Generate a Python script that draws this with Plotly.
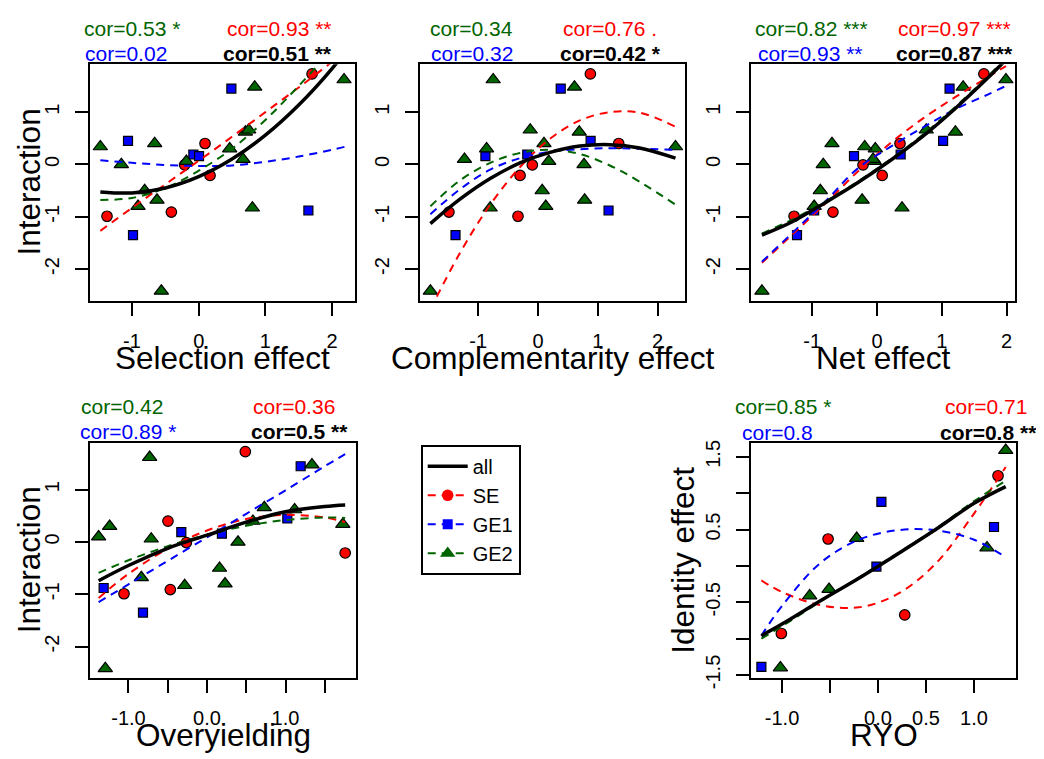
import plotly.graph_objects as go

W, H = 1044, 759
FONT = "Liberation Sans"

# ---------------- data ----------------
# Interaction (y of the first four panels)
se_interaction = [-0.99, -0.91, -0.01, 0.40, -0.21, 1.73]
ge1_interaction = [0.45, -1.35, 0.19, 0.16, 1.45, -0.88]
ge2_interaction = [-2.42, -0.83, -0.80, -0.68, -0.50, 0.00, 0.06, 0.10,
                   0.30, 0.34, 0.40, 0.62, 0.66, 1.48, 1.62]

# Selection effect
se_selection = [-1.375, -0.41, -0.21, 0.095, 0.17, 1.70]
ge1_selection = [-1.06, -0.985, -0.08, 0.005, 0.49, 1.645]
ge2_selection = [-0.56, 0.805, -0.91, -0.625, -0.81, -1.16, -0.185, 0.665,
                 0.465, -1.475, -0.66, 0.70, 0.75, 0.84, 2.18]

# Complementarity effect
se_complementarity = [-0.335, -1.49, -0.095, 1.35, -0.30, 0.876]
ge1_complementarity = [0.88, -1.38, -0.18, -0.88, 0.38, 1.18]
ge2_complementarity = [-1.80, -0.80, 0.13, 0.78, 0.07, 0.77, 0.18, -1.23,
                       -0.86, 2.30, 0.10, 0.69, -0.13, 0.61, -0.75]

# Net effect
se_net = [-1.28, -0.68, -0.216, 0.355, 0.08, 1.65]
ge1_net = [1.02, -1.235, 0.365, -0.355, 1.12, -0.97]
ge2_net = [-1.776, 0.386, -0.97, -0.23, -0.875, -0.83, -0.04, -0.06,
           -0.026, -0.19, -0.695, 1.21, 0.76, 1.33, 1.99]

# Overyielding
se_overyielding = [-1.057, -0.467, -0.263, -0.497, 1.76, 0.488]
ge1_overyielding = [1.023, -0.815, -0.327, 0.19, 1.193, -1.316]
ge2_overyielding = [-1.295, -0.284, 0.23, -0.836, 0.16, 0.395, -0.71, -1.38,
                    -1.24, 1.73, 0.585, 1.116, 0.73, 1.337, -0.73]

# RYO vs Identity effect
se_ryo = [-1.007, -0.52, 0.278, 1.25]
se_identity = [-0.93, 0.37, -0.675, 1.24]
ge1_ryo = [-1.215, 0.035, -0.017, 1.208]
ge1_identity = [-1.39, 0.88, -0.01, 0.535]
ge2_ryo = [-1.017, -0.712, -0.51, -0.222, 1.135, 1.33]
ge2_identity = [-1.40, -0.41, -0.32, 0.38, 0.25, 1.59]

# fitted curves at a few x positions
fit_x_selection = [-1.475, -1.0, -0.5, 0.0, 0.5, 1.0, 1.5, 2.0, 2.2]
fit_all_selection = [-0.525, -0.545, -0.449, -0.233, 0.103, 0.559, 1.135, 1.831, 2.16]
fit_se_selection = [-1.27, -0.83, -0.38, 0.07, 0.53, 1.00, 1.47, 1.96, 2.16]
fit_ge1_selection = [0.08, 0.03, -0.01, -0.03, -0.02, 0.05, 0.15, 0.28, 0.34]
fit_ge2_selection = [-0.68, -0.64, -0.45, -0.12, 0.30, 0.85, 1.50, 2.20, 2.50]

fit_x_complementarity = [-1.8, -1.3, -0.8, -0.3, 0.2, 0.7, 1.2, 1.7, 2.3]
fit_all_complementarity = [-1.13, -0.66, -0.27, 0.03, 0.23, 0.35, 0.378, 0.315, 0.12]
fit_se_complementarity = [-2.77, -1.68, -0.77, -0.05, 0.49, 0.84, 1.00, 0.99, 0.72]
fit_ge1_complementarity = [-0.95, -0.47, -0.10, 0.12, 0.24, 0.29, 0.31, 0.30, 0.28]
fit_ge2_complementarity = [-0.80, -0.30, 0.03, 0.22, 0.28, 0.20, -0.02, -0.33, -0.77]

fit_x_net = [-1.776, -1.3, -0.8, -0.3, 0.2, 0.7, 1.2, 1.7, 1.99]
fit_all_net = [-1.35, -1.09, -0.73, -0.35, 0.07, 0.53, 1.06, 1.64, 2.00]
fit_se_net = [-1.88, -1.33, -0.75, -0.14, 0.40, 0.87, 1.28, 1.66, 1.88]
fit_ge1_net = [-1.86, -1.30, -0.71, -0.08, 0.33, 0.70, 1.05, 1.33, 1.50]
fit_ge2_net = [-1.32, -1.05, -0.71, -0.33, 0.09, 0.56, 1.09, 1.67, 2.03]

fit_x_overyielding = [-1.38, -1.0, -0.5, 0.0, 0.5, 1.0, 1.5, 1.76]
fit_all_overyielding = [-0.74, -0.45, -0.12, 0.13, 0.38, 0.58, 0.68, 0.71]
fit_se_overyielding = [-1.07, -0.61, -0.13, 0.22, 0.44, 0.52, 0.47, 0.38]
fit_ge1_overyielding = [-1.15, -0.81, -0.36, 0.09, 0.54, 0.99, 1.45, 1.68]
fit_ge2_overyielding = [-0.59, -0.35, -0.08, 0.14, 0.31, 0.42, 0.47, 0.46]

fit_x_ryo = [-1.215, -1.0, -0.6, -0.2, 0.2, 0.6, 1.0, 1.33]
fit_all_ryo = [-0.96, -0.80, -0.48, -0.17, 0.16, 0.50, 0.86, 1.09]
fit_se_ryo = [-0.20, -0.36, -0.54, -0.57, -0.39, 0.03, 0.72, 1.36]
fit_ge1_ryo = [-0.96, -0.55, 0.04, 0.36, 0.49, 0.49, 0.36, 0.12]
fit_ge2_ryo = [-1.00, -0.83, -0.49, -0.16, 0.17, 0.51, 0.89, 1.17]

# correlation labels  (GE2, SE, GE1, all)
cor_selection = ["cor=0.53 *", "cor=0.93 **", "cor=0.02", "cor=0.51 **"]
cor_complementarity = ["cor=0.34", "cor=0.76 .", "cor=0.32", "cor=0.42 *"]
cor_net = ["cor=0.82 ***", "cor=0.97 ***", "cor=0.93 **", "cor=0.87 ***"]
cor_overyielding = ["cor=0.42", "cor=0.36", "cor=0.89 *", "cor=0.5 **"]
cor_ryo = ["cor=0.85 *", "cor=0.71", "cor=0.8", "cor=0.8 ***"]

ticks_123 = [-1, 0, 1, 2]
ticklabels_123 = ["-1", "0", "1", "2"]
ticks_int = [-2, -1, 0, 1]
ticklabels_int = ["-2", "-1", "0", "1"]
ticks_ov = [-1.0, -0.5, 0.0, 0.5, 1.0, 1.5]
ticklabels_ov = ["-1.0", "", "0.0", "", "1.0", ""]
ticks_ryo = [-1.0, -0.5, 0.0, 0.5, 1.0]
ticklabels_ryo = ["-1.0", "", "0.0", "0.5", "1.0"]
ticks_id = [-1.5, -1.0, -0.5, 0.0, 0.5, 1.0, 1.5]
ticklabels_id = ["-1.5", "", "-0.5", "", "0.5", "", "1.5"]

groups = ["SE", "GE1", "GE2"]
colors = {"SE": "#FF0000", "GE1": "#0000FF", "GE2": "#006400", "all": "#000000"}
symbols = {"SE": "circle", "GE1": "square", "GE2": "triangle-up"}
msize = {"SE": 10.5, "GE1": 9, "GE2": 12.5}

panels = [
    dict(x={"SE": se_selection, "GE1": ge1_selection, "GE2": ge2_selection},
         y={"SE": se_interaction, "GE1": ge1_interaction, "GE2": ge2_interaction},
         fx=fit_x_selection,
         fy={"SE": fit_se_selection, "GE1": fit_ge1_selection, "GE2": fit_ge2_selection,
             "all": fit_all_selection},
         xlabel="Selection effect", ylabel="Interaction", cor=cor_selection,
         box=(82, 347, 54.3, 295), xr=(-1.630, 2.344), yr=(-2.601, 1.913),
         xt=(ticks_123, ticklabels_123), yt=(ticks_int, ticklabels_int),
         corpos=[(124.5, 18.3), (271.3, 18.3), (118.3, 43.3), (269.7, 43.3)],
         ylabx=21),
    dict(x={"SE": se_complementarity, "GE1": ge1_complementarity, "GE2": ge2_complementarity},
         y={"SE": se_interaction, "GE1": ge1_interaction, "GE2": ge2_interaction},
         fx=fit_x_complementarity,
         fy={"SE": fit_se_complementarity, "GE1": fit_ge1_complementarity,
             "GE2": fit_ge2_complementarity, "all": fit_all_complementarity},
         xlabel="Complementarity effect", ylabel=None, cor=cor_complementarity,
         box=(412, 677, 54.3, 295), xr=(-1.974, 2.459), yr=(-2.601, 1.913),
         xt=(ticks_123, ticklabels_123), yt=(ticks_int, ticklabels_int),
         corpos=[(463.8, 18.3), (601.7, 18.3), (464.2, 42.8), (602.0, 42.8)],
         ylabx=None),
    dict(x={"SE": se_net, "GE1": ge1_net, "GE2": ge2_net},
         y={"SE": se_interaction, "GE1": ge1_interaction, "GE2": ge2_interaction},
         fx=fit_x_net,
         fy={"SE": fit_se_net, "GE1": fit_ge1_net, "GE2": fit_ge2_net, "all": fit_all_net},
         xlabel="Net effect", ylabel=None, cor=cor_net,
         box=(743, 1007, 54.3, 295), xr=(-1.945, 2.130), yr=(-2.601, 1.913),
         xt=(ticks_123, ticklabels_123), yt=(ticks_int, ticklabels_int),
         corpos=[(803.0, 18.3), (946.3, 18.3), (802.8, 43.3), (946.2, 43.3)],
         ylabx=None),
    dict(x={"SE": se_overyielding, "GE1": ge1_overyielding, "GE2": ge2_overyielding},
         y={"SE": se_interaction, "GE1": ge1_interaction, "GE2": ge2_interaction},
         fx=fit_x_overyielding,
         fy={"SE": fit_se_overyielding, "GE1": fit_ge1_overyielding,
             "GE2": fit_ge2_overyielding, "all": fit_all_overyielding},
         xlabel="Overyielding", ylabel="Interaction", cor=cor_overyielding,
         box=(82.3, 347.7, 440, 679.3), xr=(-1.486, 1.894), yr=(-2.598, 1.897),
         xt=(ticks_ov, ticklabels_ov), yt=(ticks_int, ticklabels_int),
         corpos=[(113.8, 403.3), (286.3, 403.3), (119.7, 428.3), (291.7, 428.3)],
         ylabx=21),
    dict(x={"SE": se_ryo, "GE1": ge1_ryo, "GE2": ge2_ryo},
         y={"SE": se_identity, "GE1": ge1_identity, "GE2": ge2_identity},
         fx=fit_x_ryo,
         fy={"SE": fit_se_ryo, "GE1": fit_ge1_ryo, "GE2": fit_ge2_ryo, "all": fit_all_ryo},
         xlabel="RYO", ylabel="Identity effect", cor=cor_ryo,
         box=(743.3, 1007.7, 440, 679.3), xr=(-1.320, 1.434), yr=(-1.539, 1.692),
         xt=(ticks_ryo, ticklabels_ryo), yt=(ticks_id, ticklabels_id),
         corpos=[(775.0, 402.7), (977.7, 402.7), (769.0, 429.3), (984.2, 429.3)],
         ylabx=675.5),
]


def px(xp):
    return xp / W


def py(yp):
    return 1 - yp / H


fig = go.Figure()
annotations = []
layout = {}

for i, p in enumerate(panels):
    n = "" if i == 0 else str(i + 1)
    xa, ya = "x" + n, "y" + n
    x0, x1, y0, y1 = p["box"]
    axis_common = dict(showline=True, mirror=True, linecolor="black", linewidth=2,
                       ticks="outside", ticklen=13, tickwidth=2, tickcolor="black",
                       showgrid=False, zeroline=False,
                       tickfont=dict(family=FONT, size=20, color="black"))
    layout["xaxis" + n] = dict(axis_common, domain=[px(x0), px(x1)], range=list(p["xr"]),
                               anchor=ya, tickmode="array", tickvals=p["xt"][0],
                               ticktext=p["xt"][1], ticklabelstandoff=8)
    layout["yaxis" + n] = dict(axis_common, domain=[py(y1), py(y0)], range=list(p["yr"]),
                               anchor=xa, tickmode="array", tickvals=p["yt"][0],
                               ticktext=p["yt"][1], tickangle=-90, ticklabelstandoff=8)

    # points
    for g in groups:
        fig.add_trace(go.Scatter(
            x=p["x"][g], y=p["y"][g], mode="markers", xaxis=xa, yaxis=ya,
            marker=dict(symbol=symbols[g], size=msize[g], color=colors[g],
                        line=dict(color="black", width=1.2)),
            showlegend=False, hoverinfo="skip"))

    # fitted curves
    for g in groups:
        fig.add_trace(go.Scatter(
            x=p["fx"], y=p["fy"][g], mode="lines", xaxis=xa, yaxis=ya,
            line=dict(color=colors[g], width=2, dash="8px,6px", shape="spline"),
            showlegend=False, hoverinfo="skip"))
    fig.add_trace(go.Scatter(
        x=p["fx"], y=p["fy"]["all"], mode="lines", xaxis=xa, yaxis=ya,
        line=dict(color="black", width=3.5, shape="spline"),
        showlegend=False, hoverinfo="skip"))

    # correlation texts
    for k, key in enumerate(["GE2", "SE", "GE1", "all"]):
        txt = p["cor"][k]
        if key == "all":
            txt = "<b>" + txt + "</b>"
        cx, cy = p["corpos"][k]
        annotations.append(dict(text=txt, x=px(cx), y=py(cy), xref="paper", yref="paper",
                                xanchor="center", yanchor="middle", showarrow=False,
                                font=dict(family=FONT, size=21, color=colors[key])))

    # axis titles
    xt_y = 353.3 if y1 < 400 else 737.6
    annotations.append(dict(text=p["xlabel"], x=px((x0 + x1) / 2), y=py(xt_y),
                            xref="paper", yref="paper", xanchor="center", yanchor="middle",
                            showarrow=False, font=dict(family=FONT, size=31.5, color="black")))
    if p["ylabel"]:
        annotations.append(dict(text=p["ylabel"], x=px(p["ylabx"]), y=py((y0 + y1) / 2),
                                xref="paper", yref="paper", xanchor="center", yanchor="middle",
                                textangle=-90, showarrow=False,
                                font=dict(family=FONT, size=31.5, color="black")))

# legend entries
fig.add_trace(go.Scatter(x=[None], y=[None], mode="lines", name="all",
                         line=dict(color="black", width=3.5)))
for g in groups:
    fig.add_trace(go.Scatter(x=[None], y=[None], mode="lines+markers", name=g,
                             line=dict(color=colors[g], width=2, dash="8px,6px"),
                             marker=dict(symbol=symbols[g], size=msize[g] + 1, color=colors[g])))

fig.update_layout(
    **layout,
    annotations=annotations,
    width=W, height=H,
    margin=dict(l=0, r=0, t=0, b=0),
    paper_bgcolor="white", plot_bgcolor="white",
    font=dict(family=FONT, color="black"),
    showlegend=True,
    legend=dict(x=px(412.7), y=py(442), xanchor="left", yanchor="top",
                bordercolor="black", borderwidth=2, bgcolor="white",
                font=dict(family=FONT, size=20, color="black"),
                itemwidth=40, tracegroupgap=0),
)

fig.write_html("out.html")
